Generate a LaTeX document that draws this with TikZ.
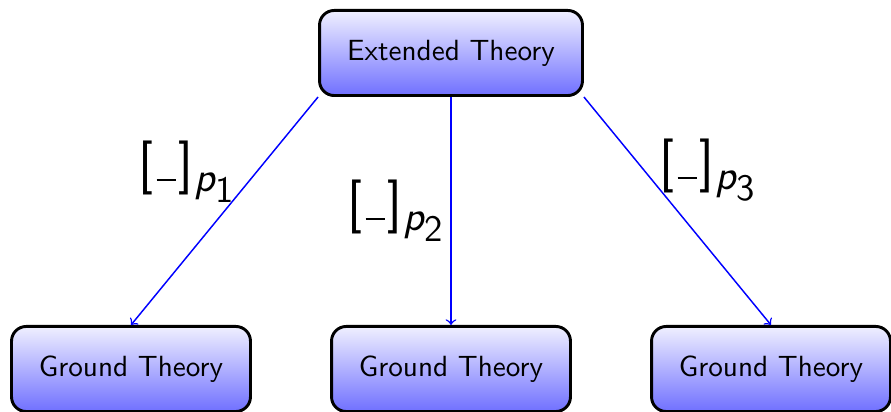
\documentclass[tikz,border=0pt]{standalone}
\renewcommand{\familydefault}{\sfdefault}
\newcommand{\brklabel}[1]{{\fontsize{20.3}{24}\selectfont[\kern1.2pt\rule[0.1pt]{7.3pt}{0.85pt}\kern0.8pt]}\kern0.5pt\raisebox{-3.9pt}{\fontsize{16}{20}\selectfont\itshape p}\raisebox{-8pt}{\fontsize{14}{17}\selectfont #1}}
\begin{document}
\begin{tikzpicture}[x=0.375pt,y=-0.375pt,
  box/.style={draw=black, line width=1.1pt, rounded corners=5.5pt, top color=blue!6, bottom color=blue!56, minimum height=31.9pt, inner sep=0pt, font=\sffamily\fontsize{10.95}{13}\selectfont},
  topbox/.style={box, minimum width=98.6pt},
  gbox/.style={box, minimum width=89.6pt},
  arr/.style={->, draw=blue, line width=0.55pt},
  lbl/.style={inner sep=0pt, font=\sffamily}]
\useasboundingbox (0,0) rectangle (891,412);
\clip (0,0) rectangle (891,412);
\node[topbox] (ext) at (451,53) {Extended Theory};
\node[gbox] (g1) at (131,369) {Ground Theory};
\node[gbox] (g2) at (451,369) {Ground Theory};
\node[gbox] (g3) at (771,369) {Ground Theory};
\draw[arr] (ext.south west) -- (g1.north);
\draw[arr] (ext.south) -- (g2.north);
\draw[arr] (ext.south east) -- (g3.north);
\node[lbl] (l1) at (186,171.5) {\brklabel{1}};
\node[lbl] (l2) at (395,210.5) {\brklabel{2}};
\node[lbl] (l3) at (707,170) {\brklabel{3}};
\end{tikzpicture}
\end{document}
